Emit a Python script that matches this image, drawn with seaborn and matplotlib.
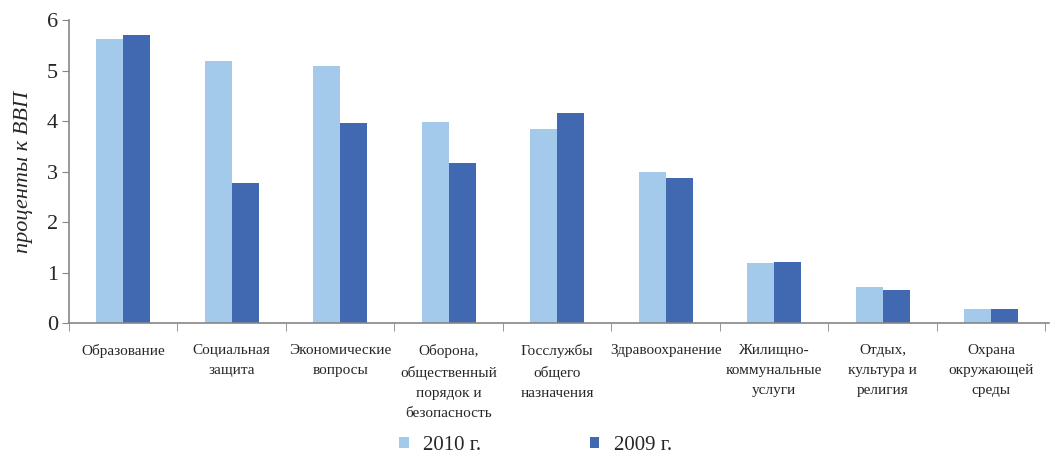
import numpy as np
import pandas as pd
import matplotlib
matplotlib.use("Agg")
import matplotlib.pyplot as plt
import seaborn as sns

categories = ["Образование", "Социальная\nзащита", "Экономические\nвопросы",
              "Оборона,\nобщественный\nпорядок и\nбезопасность",
              "Госслужбы\nобщего\nназначения", "Здравоохранение",
              "Жилищно-\nкоммунальные\nуслуги", "Отдых,\nкультура и\nрелигия",
              "Охрана\nокружающей\nсреды"]
vals_2010 = [5.63, 5.19, 5.08, 3.99, 3.84, 3.00, 1.18, 0.72, 0.28]
vals_2009 = [5.71, 2.78, 3.97, 3.16, 4.15, 2.88, 1.20, 0.66, 0.28]
years = ["2010 г.", "2009 г."]

df = pd.DataFrame({
    "cat": categories * 2,
    "year": [years[0]] * len(categories) + [years[1]] * len(categories),
    "val": vals_2010 + vals_2009,
})

sns.set_style("white")
plt.rcParams["font.family"] = ["Liberation Serif", "DejaVu Serif"]

fig = plt.figure(figsize=(10.5, 4.59), dpi=100)
ax = fig.add_axes([0.0657, 0.2963, 0.933, 0.6601])

sns.barplot(data=df, x="cat", y="val", hue="year", order=categories,
            palette=["#A3C9EB", "#4169B1"], width=0.5, saturation=1,
            linewidth=0, edgecolor="none", ax=ax, legend=True)

ax.set_ylim(0, 6)
ax.set_yticks(range(7))
ax.set_xlim(-0.5, 8.53)
ax.tick_params(axis="y", labelsize=16, length=5, direction="out", left=True,
               color="#868686", pad=3)
ax.set_xticks(np.arange(-0.5, 9.0, 1), minor=True)
ax.tick_params(axis="x", which="major", length=0, labelsize=11, pad=15)
ax.tick_params(axis="x", which="minor", length=6, direction="out",
               bottom=True, color="#868686")
for lab in ax.get_xticklabels():
    lab.set_linespacing(1.72)
    lab.set_verticalalignment("top")

ax.set_xlabel("")
ax.set_ylabel("проценты к ВВП", fontsize=16, style="italic", labelpad=10)
sns.despine(ax=ax)
for s in ["left", "bottom"]:
    ax.spines[s].set_color("#868686")
    ax.spines[s].set_linewidth(1.2)

handles, labels = ax.get_legend_handles_labels()
ax.get_legend().remove()
fig.legend(handles, labels, loc="center", bbox_to_anchor=(0.51, 0.03),
           ncol=2, frameon=False, fontsize=15, columnspacing=5.2,
           handlelength=0.45, handleheight=0.45, handletextpad=0.7)

fig.savefig("out.png", dpi=100)
